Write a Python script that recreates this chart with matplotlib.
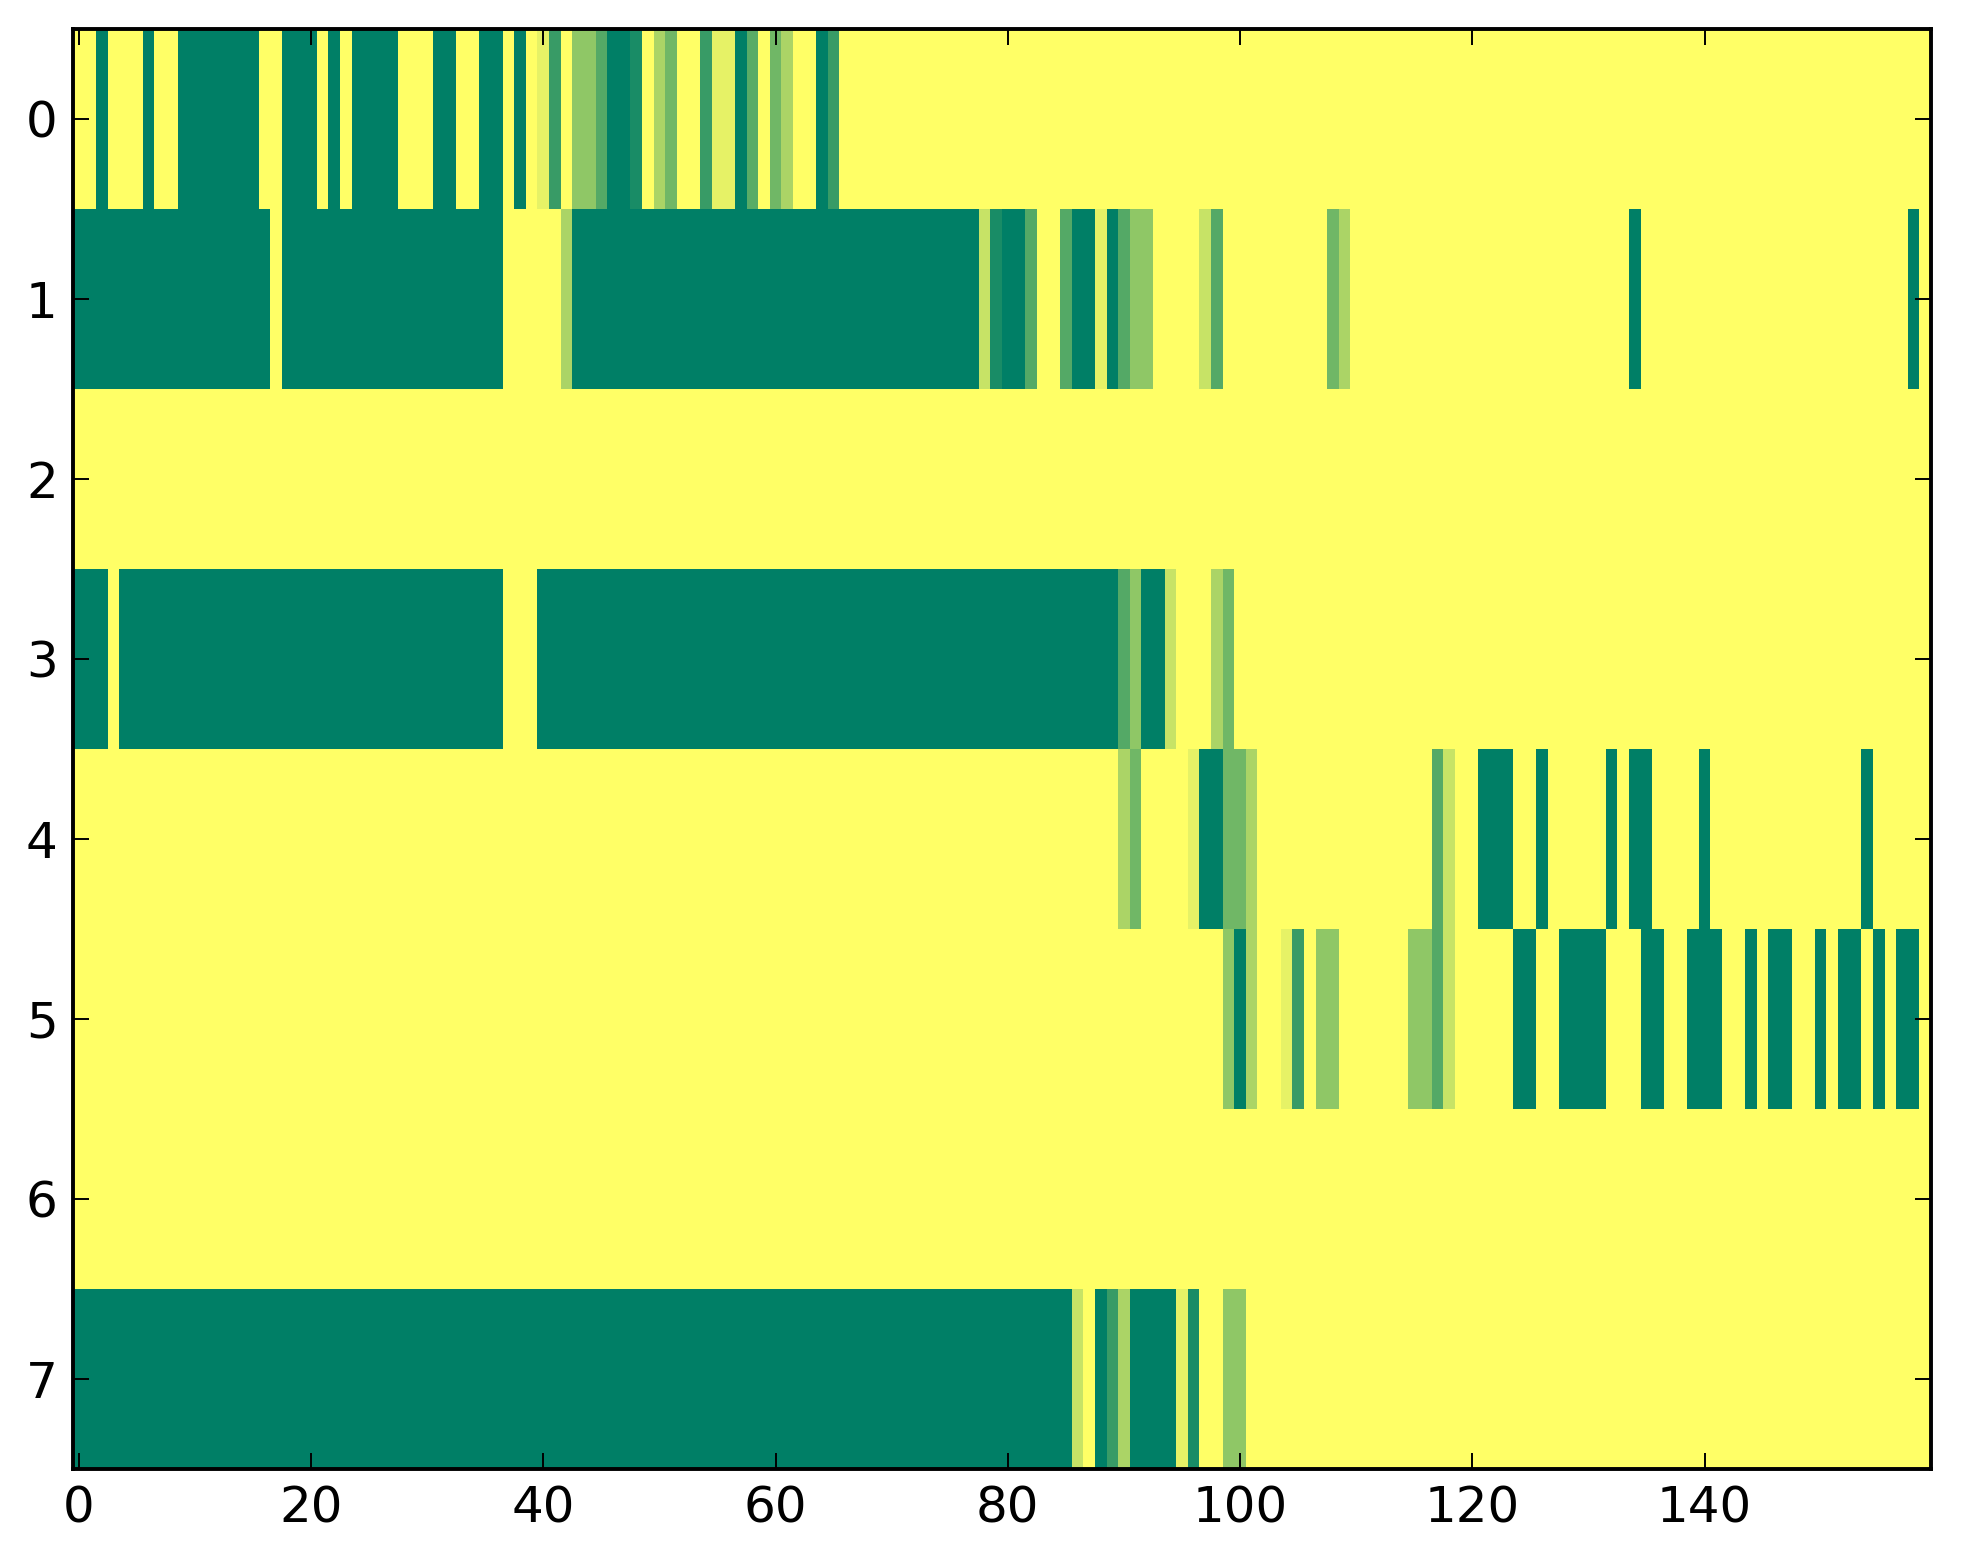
import numpy as np
import matplotlib
matplotlib.use('Agg')
import matplotlib.pyplot as plt

# values, one list per row (160 columns each)
row0 = [1, 1, 0, 1, 1, 1, 0, 1, 1] + [0] * 7 + \
       [1, 1, 0, 0, 0, 1, 0, 1, 0, 0, 0, 0, 1, 1, 1, 0, 0, 1, 1, 0, 0, 1, 0, 1] + \
       [.9, .22, 1, .56, .56, .33, 0, 0, .1, 1, .67, .44, 1, 1, .22, .9, .9, 0, .35, 1,
        .44, .67, 1, 1, 0, .22] + [1] * 94
row1 = [0] * 17 + [1] + [0] * 19 + [1] * 5 + [.67] + [0] * 35 + \
       [.78, .1, 0, 0, .33, 1, 1, .33, 0, 0, .9, 0, .33, .56, .56, 1, 1, 1, 1, .78, .33] + \
       [1] * 9 + [.44, .67] + [1] * 24 + [0] + [1] * 23 + [0, 1]
row2 = [1] * 160
row3 = [0] * 3 + [1] + [0] * 33 + [1] * 3 + [0] * 50 + \
       [.33, .56, 0, 0, .78, 1, 1, 1, .67, .44] + [1] * 60
row4 = [1] * 90 + [.67, .44, 1, 1, 1, 1, .9, 0, 0, .44, .44, .67] + [1] * 15 + \
       [.33, .78, 1, 1, 0, 0, 0, 1, 1, 0, 1, 1, 1, 1, 1, 0, 1, 0, 0, 1, 1, 1, 1, 0] + \
       [1] * 13 + [0] + [1] * 5
row5 = [1] * 99 + [.56, 0, .67, 1, 1, .9, .22, 1, .56, .56] + [1] * 6 + \
       [.56, .56, .33, .78] + [1] * 5 + \
       [0, 0, 1, 1, 0, 0, 0, 0, 1, 1, 1, 0, 0, 1, 1, 0, 0, 0, 1, 1, 0, 1, 0, 0, 1, 1,
        0, 1, 0, 0, 1, 0, 1, 0, 0, 1]
row6 = [1] * 160
row7 = [0] * 86 + [.78, 1, 0, .22, .67, 0, 0, 0, 0, .9, .1, 1, 1, .56, .56] + [1] * 59

xticks = list(range(0, 160, 20))
yticks = list(range(8))

grid = np.array([row0, row1, row2, row3, row4, row5, row6, row7], dtype=float)

W, H = 1963, 1564
fig = plt.figure(figsize=(W / 100, H / 100), dpi=100)
ax = fig.add_axes([73 / W, 1 - 1469 / H, (1931 - 73) / W, (1469 - 29) / H])
ax.imshow(grid, cmap='summer', aspect='auto', interpolation='nearest', vmin=0, vmax=1)

ax.set_xticks(xticks)
ax.set_yticks(yticks)
ax.tick_params(direction='in', top=True, right=True, length=11.5, width=1.4,
               labelsize=36, pad=11)
for s in ax.spines.values():
    s.set_linewidth(2.8)

fig.savefig('out.png', dpi=100)
